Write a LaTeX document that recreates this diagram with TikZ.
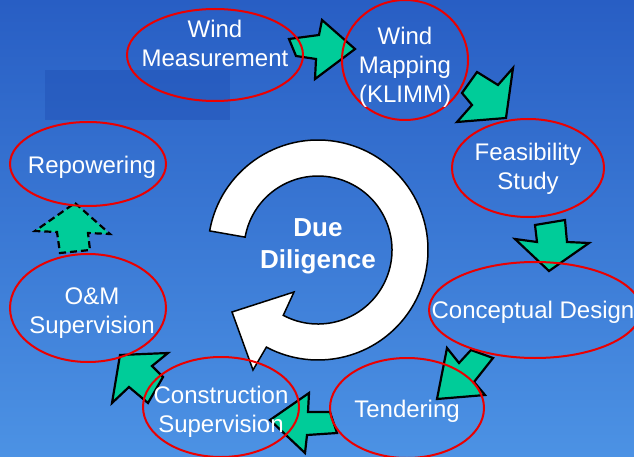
\documentclass[tikz,border=0pt]{standalone}
\usepackage{fontspec}
\setmainfont{Liberation Sans}
\usetikzlibrary{shapes.geometric,calc}

\definecolor{skytop}{RGB}{40,94,196}
\definecolor{skybottom}{RGB}{76,146,228}
\definecolor{patch}{RGB}{32,80,180}
\definecolor{stepgreen}{RGB}{0,204,153}
\definecolor{ringred}{RGB}{235,0,0}

\tikzset{stage/.style={draw=ringred,line width=2pt,ellipse,inner sep=0pt}}
\tikzset{stagetext/.style={text=white,align=center,font=\fontsize{24}{29}\selectfont}}
\tikzset{flow/.style={fill=stepgreen,draw=black,line width=2.2pt,line join=miter}}
\tikzset{loopring/.style={fill=white,draw=black,line width=1.5pt}}

\begin{document}
\begin{tikzpicture}[x=1pt, y=1pt, >=stealth]
	\useasboundingbox (0,0) rectangle (634,456);
	\clip (0,0) rectangle (634,456);
	
	% background
	\shade [top color=skytop, bottom color=skybottom] (0,0) rectangle (634,456);
	\fill [patch, opacity=0.45] (45,336) rectangle (230,386);
	
	% due diligence ring
	\coordinate (hub) at (318,206);
	\draw [loopring] ($(hub)+(170:110)$) arc [start angle=170, end angle=-118, radius=110]
	  -- (253,86) -- (232,144) -- (294,164) -- ($(hub)+(-118:74)$)
	  arc [start angle=-118, end angle=170, radius=74] -- cycle;
	\node [text=white, align=center, font=\bfseries\fontsize{26}{32}\selectfont] (due) at ([yshift=4pt]hub) {Due\\Diligence};
	
	% green steps
	\draw [flow] (289,417) -- (319,421) -- (322,436) -- (355,407) -- (315,377) -- (316,397) -- (296,400) -- cycle;
	\draw [flow] (477,384) -- (498,371) -- (513,388) -- (506,338) -- (457,334) -- (472,351) -- (462,363) -- cycle;
	\draw [flow] (535,231) -- (565,236) -- (567,214) -- (589,213) -- (549,185) -- (515,217) -- (537,214) -- cycle;
	\draw [flow] (447,108) -- (459,93) -- (471,106) -- (493,98) -- (474,74) -- (485,61) -- (437,57) -- cycle;
	\draw [flow] (270,36) -- (309,63) -- (308,44) -- (330,44) -- (337,23) -- (307,21) -- (305,3) -- cycle;
	\draw [flow] (120,101) -- (168,103) -- (152,90) -- (163,79) -- (148,53) -- (129,69) -- (112,53) -- cycle;
	\draw [flow, dash pattern=on 7pt off 4pt] (75,253) -- (110,222) -- (88,223) -- (90,206) -- (60,203) -- (57,224) -- (35,225) -- cycle;
	
	% stages
	\foreach \n/\x/\y/\rx/\ry in {measure/215/401/88/46, mapping/405/396/63/60,
	    feasibility/528/288/76/49, concept/535/146/106/48, tender/407/48/77/50,
	    construct/221/49/78/50, operate/88/148/78/54, repower/88/292/78/42}
	  \node [stage, minimum width=\rx*2pt, minimum height=\ry*2pt] (\n) at (\x,\y) {};
	
	% stage labels
	\node [stagetext] (measure-txt) at ([yshift=12pt]measure.center) {Wind\\Measurement};
	\node [stagetext] (mapping-txt) at ([yshift=-7pt]mapping.center) {Wind\\Mapping\\(KLIMM)};
	\node [stagetext] (feasibility-txt) at ([yshift=-1pt]feasibility.center) {Feasibility\\Study};
	\node [stagetext] (concept-txt) at ([xshift=-2pt,yshift=-2pt]concept.center) {Conceptual Design};
	\node [stagetext] (tender-txt) at ([yshift=-3pt]tender.center) {Tendering};
	\node [stagetext] (construct-txt) at ([yshift=-5pt]construct.center) {Construction\\Supervision};
	\node [stagetext] (operate-txt) at ([xshift=4pt,yshift=-5pt]operate.center) {O\&M\\Supervision};
	\node [stagetext] (repower-txt) at ([xshift=4pt,yshift=-3pt]repower.center) {Repowering};
	
\end{tikzpicture}
\end{document}
